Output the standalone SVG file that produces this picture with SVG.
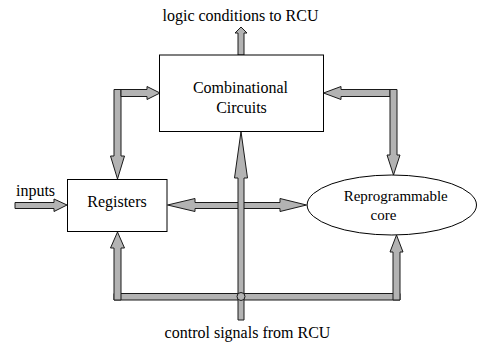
<svg xmlns="http://www.w3.org/2000/svg" width="479" height="342" viewBox="0 0 479 342">
<style>
.box{fill:#fff;stroke:#000;stroke-width:1}
.arr{fill:#b3b3b3;stroke:#1a1a1a;stroke-width:1;stroke-linejoin:miter}
.t{font-family:'Liberation Serif',Tinos,'Times New Roman','DejaVu Serif',serif;font-size:16px;fill:#000;text-anchor:middle}
</style>
<rect width="479" height="342" fill="#fff"/>
<g id="connectors">
  <path class="arr" d="M238,55 V33 H235 L241,27 L247,33 H244 V55 Z"/>
  <path class="arr" d="M114,89.5 H121 V156 H124.5 L117.5,179 L110.5,156 H114 Z"/>
  <path class="arr" d="M121,89.5 H147 V86.5 L160,93 L147,99.5 V96.5 H121 Z"/>
  <path class="arr" d="M390,89.5 H341 V86.5 L323.5,93 L341,99.5 V96.5 H390 Z"/>
  <path class="arr" d="M390,89.5 H397 V155 H400 L393.5,175 L387,155 H390 Z"/>
  <path class="arr" d="M15,202.5 H54 V199 L67,205 L54,211.5 V208.5 H15 Z"/>
  <path class="arr" d="M114,293.5 H400 V300 H114 Z"/>
  <path class="arr" d="M114,300 V248 H110.5 L117.5,232 L124.5,248 H121 V300 Z"/>
  <path class="arr" d="M393,300 V252 H390 L396.5,235 L403,252 H400 V300 Z"/>
  <path class="arr" d="M167.5,205 L195,198.5 V202.5 H280 V198.5 L306.5,205 L280,211.5 V208.5 H195 V211.5 Z"/>
  <path class="arr" d="M238,320 V178 H234.5 L241,131.5 L247.5,178 H244 V320 Z"/>
  <circle class="arr" cx="241" cy="296.5" r="4"/>
</g>
<g id="combinational">
  <rect class="box" x="159.5" y="55" width="164" height="76.5"/>
  <text class="t" x="240.5" y="93" font-family="Liberation Serif, serif">Combinational</text>
  <text class="t" x="241.5" y="112.5" font-family="Liberation Serif, serif">Circuits</text>
</g>
<g id="registers">
  <rect class="box" x="67.5" y="179.5" width="99.5" height="52"/>
  <text class="t" x="117" y="207" font-family="Liberation Serif, serif">Registers</text>
</g>
<g id="core">
  <ellipse class="box" cx="391.8" cy="205" rx="84.7" ry="30"/>
  <text class="t" x="395.7" y="201" style="font-size:15px">Reprogrammable</text>
  <text class="t" x="383.5" y="220" style="font-size:15px">core</text>
</g>
<g id="labels">
  <text class="t" x="240.5" y="20.5">logic conditions to RCU</text>
  <text class="t" x="35.5" y="196">inputs</text>
  <text class="t" x="247.5" y="338">control signals from RCU</text>
</g>
</svg>
